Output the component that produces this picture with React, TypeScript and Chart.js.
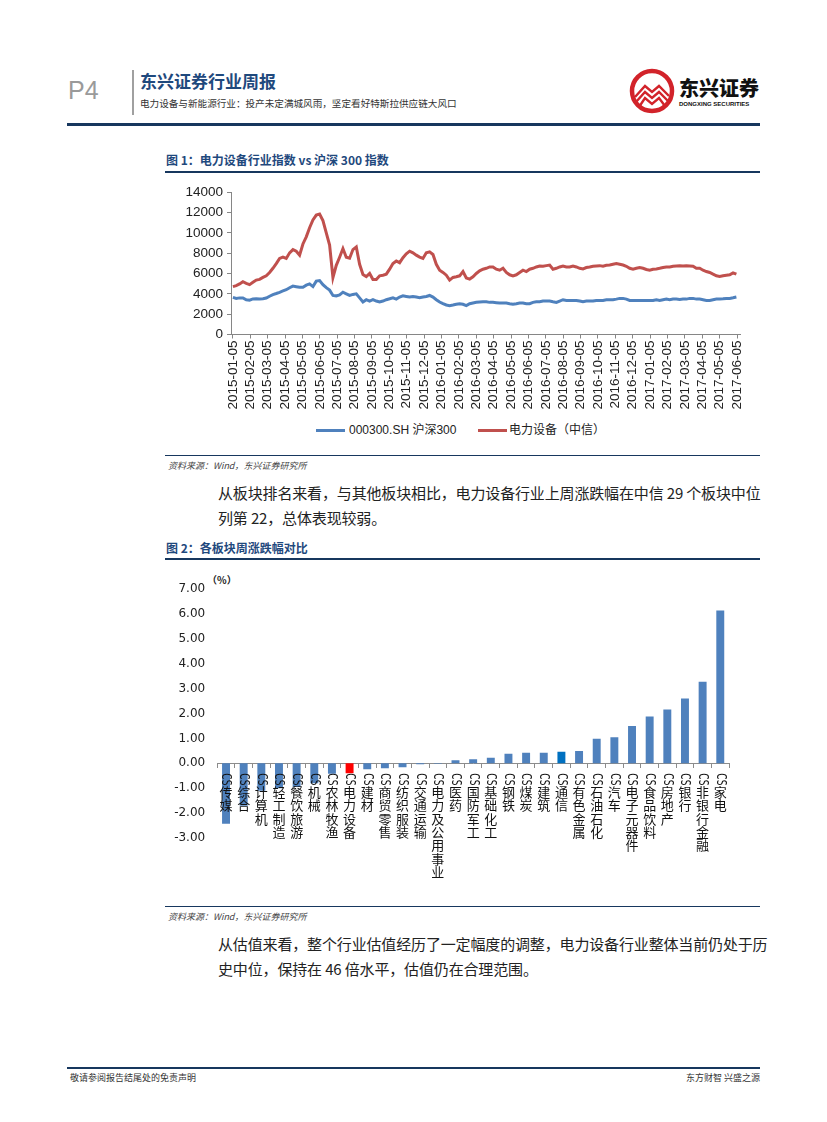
import React, { useEffect, useRef } from 'react';
import { Chart, registerables } from 'chart.js';

Chart.register(...registerables);

// ---------- Figure 1 data ----------
const MONTH_TICKS = [
  '2015-01-05', '2015-02-05', '2015-03-05', '2015-04-05', '2015-05-05', '2015-06-05',
  '2015-07-05', '2015-08-05', '2015-09-05', '2015-10-05', '2015-11-05', '2015-12-05',
  '2016-01-05', '2016-02-05', '2016-03-05', '2016-04-05', '2016-05-05', '2016-06-05',
  '2016-07-05', '2016-08-05', '2016-09-05', '2016-10-05', '2016-11-05', '2016-12-05',
  '2017-01-05', '2017-02-05', '2017-03-05', '2017-04-05', '2017-05-05', '2017-06-05',
];
// one sample every ~4 trading days (0.1918 month)
const SAMPLE_STEP_MONTHS = 0.1918;

const HS300 = [
  3650, 3550, 3600, 3600, 3420, 3380, 3500, 3520, 3500, 3520,
  3580, 3760, 3920, 4030, 4150, 4280, 4400, 4600, 4760, 4700,
  4640, 4650, 4850, 4970, 4710, 5250, 5300, 4900, 4600, 4360,
  3840, 3800, 3900, 4160, 4000, 3840, 3940, 4000, 3600, 3200,
  3420, 3290, 3420, 3290, 3190, 3290, 3420, 3510, 3610, 3480,
  3680, 3800, 3740, 3680, 3740, 3680, 3610, 3680, 3740, 3840,
  3680, 3420, 3190, 3030, 2900, 2840, 2900, 2970, 3030, 2970,
  2840, 3030, 3100, 3160, 3190, 3220, 3220,
  3160, 3160, 3130, 3100, 3100, 3100, 3030, 2970, 3030, 3100,
  3100, 3030, 3030, 3160, 3220, 3220, 3290, 3290, 3290, 3220,
  3160, 3290, 3420, 3350, 3350, 3350, 3350, 3290, 3220, 3290,
  3290, 3290, 3350, 3350, 3350, 3420, 3420, 3420, 3480, 3550,
  3550, 3480, 3350, 3350, 3350, 3350, 3350, 3350, 3350, 3350,
  3420, 3350, 3420, 3480, 3420, 3480, 3480, 3450, 3480, 3480,
  3550, 3550, 3480, 3480, 3420, 3350, 3350, 3420, 3480, 3480,
  3510, 3550, 3550, 3610, 3680,
];

const POWER_EQUIP = [
  4710, 4800, 4970, 5190, 5030, 4900, 5130, 5350, 5420, 5610,
  5770, 6100, 6510, 6970, 7480, 7610, 7480, 8030, 8350, 8190,
  7800, 8900, 9600, 10500, 11260, 11740, 11850, 11200, 10000, 8800,
  5600, 6800, 7600, 8450, 7600, 7500, 8350, 8600, 6900, 5900,
  5700, 6000, 5400, 5400, 5770, 5830, 5930, 6420, 6970, 7230,
  7060, 7550, 7930, 8190, 8030, 7800, 7610, 7480, 8030, 8130,
  7870, 6900, 6320, 6100, 5830, 5350, 5610, 5680, 5770, 6190,
  5550, 5450, 5680, 6000, 6260, 6420, 6510,
  6640, 6640, 6420, 6320, 6510, 6100, 5870, 5770, 5870, 6100,
  6320, 6190, 6420, 6510, 6640, 6740, 6710, 6770, 6830, 6420,
  6510, 6640, 6740, 6640, 6640, 6740, 6640, 6510, 6450, 6580,
  6640, 6710, 6740, 6770, 6710, 6800, 6830, 6900, 6970, 6900,
  6830, 6710, 6510, 6420, 6510, 6580, 6510, 6390, 6320, 6420,
  6450, 6510, 6580, 6640, 6640, 6710, 6740, 6770, 6740, 6770,
  6740, 6710, 6510, 6510, 6320, 6190, 6100, 5930, 5770, 5710,
  5770, 5830, 5870, 6060, 5930,
];

const SERIES_NAMES = ['000300.SH 沪深300', '电力设备（中信）'];
const Y1_TICKS = [0, 2000, 4000, 6000, 8000, 10000, 12000, 14000];

// ---------- Figure 2 data ----------
const SECTORS = [
  'CS传媒', 'CS综合', 'CS计算机', 'CS轻工制造', 'CS餐饮旅游', 'CS机械', 'CS农林牧渔',
  'CS电力设备', 'CS建材', 'CS商贸零售', 'CS纺织服装', 'CS交通运输', 'CS电力及公用事业',
  'CS医药', 'CS国防军工', 'CS基础化工', 'CS钢铁', 'CS煤炭', 'CS建筑', 'CS通信',
  'CS有色金属', 'CS石油石化', 'CS汽车', 'CS电子元器件', 'CS食品饮料', 'CS房地产',
  'CS银行', 'CS非银行金融', 'CS家电',
];
const WEEKLY_CHANGE = [
  -2.43, -1.70, -1.10, -1.00, -0.95, -0.80, -0.42,
  -0.40, -0.24, -0.20, -0.16, -0.04, -0.02,
  0.13, 0.17, 0.23, 0.39, 0.43, 0.43, 0.47,
  0.50, 0.99, 1.05, 1.50, 1.88, 2.16,
  2.61, 3.28, 6.14,
];
const Y2_TICKS = [-3, -2, -1, 0, 1, 2, 3, 4, 5, 6, 7];
const HIGHLIGHT = 'CS电力设备';
const SECONDARY = 'CS通信';

const BLUE = '#4F81BD';
const RED = '#C0504D';
const NAVY = '#1F497D';
const RULE = '#17375E';
const CJK = '"Noto Sans CJK SC", sans-serif';

function LineChart() {
  const ref = useRef<HTMLCanvasElement | null>(null);
  useEffect(() => {
    if (!ref.current) return;
    const toPts = (arr: number[]) => arr.map((v, i) => ({ x: i * SAMPLE_STEP_MONTHS, y: v }));
    const chart = new Chart(ref.current, {
      type: 'line',
      data: {
        datasets: [
          { label: SERIES_NAMES[0], data: toPts(HS300), borderColor: BLUE, borderWidth: 3, pointRadius: 0, tension: 0 },
          { label: SERIES_NAMES[1], data: toPts(POWER_EQUIP), borderColor: RED, borderWidth: 3, pointRadius: 0, tension: 0 },
        ],
      },
      options: {
        animation: false,
        responsive: false,
        maintainAspectRatio: false,
        events: [],
        layout: { padding: { top: 10, right: 20, bottom: 0, left: 0 } },
        plugins: { legend: { display: false }, tooltip: { enabled: false } },
        scales: {
          x: {
            type: 'linear',
            min: -0.11,
            max: 29.17,
            afterBuildTicks: (s: any) => { s.ticks = MONTH_TICKS.map((_, i) => ({ value: i })); },
            afterFit: (s: any) => { s.height = 85.5; },
            grid: { drawOnChartArea: false, drawTicks: true, tickLength: 4, color: '#868686' },
            border: { color: '#868686' },
            ticks: {
              autoSkip: false, minRotation: 90, maxRotation: 90, padding: 2,
              font: { family: 'Liberation Sans', size: 13.5 }, color: '#222',
              callback: (v: any) => MONTH_TICKS[Math.round(v)] ?? '',
            },
          },
          y: {
            min: 0,
            max: 14000,
            afterBuildTicks: (s: any) => { s.ticks = Y1_TICKS.map((v) => ({ value: v })); },
            afterFit: (s: any) => { s.width = 71; },
            grid: { drawOnChartArea: false, drawTicks: true, tickLength: 4, color: '#868686' },
            border: { color: '#868686' },
            ticks: {
              padding: 4, font: { family: 'Liberation Sans', size: 13.5 }, color: '#222',
              callback: (v: any) => String(v),
            },
          },
        },
      },
    } as any);
    return () => chart.destroy();
  }, []);
  return <canvas ref={ref} width={600} height={240} style={{ position: 'absolute', left: 160, top: 180, width: 600, height: 240 }} />;
}

const sectorLabelPlugin = {
  id: 'sectorLabels',
  afterDraw(chart: any) {
    const { ctx } = chart;
    const xs = chart.scales.x;
    const ys = chart.scales.y;
    const y0 = ys.getPixelForValue(0);
    ctx.save();
    ctx.fillStyle = '#111';
    SECTORS.forEach((name, i) => {
      const x = xs.getPixelForValue(i);
      const prefix = name.slice(0, 2);
      const rest = name.slice(2);
      ctx.save();
      ctx.translate(x, y0 + 10);
      ctx.rotate(Math.PI / 2);
      ctx.scale(0.65, 1);
      ctx.font = '14px "DejaVu Sans"';
      ctx.textAlign = 'left';
      ctx.textBaseline = 'middle';
      ctx.fillText(prefix, 0, 0);
      ctx.restore();
      ctx.font = '13px ' + CJK;
      ctx.textAlign = 'center';
      ctx.textBaseline = 'top';
      Array.from(rest).forEach((ch, k) => {
        ctx.fillText(ch, x, y0 + 22 + k * 13.4);
      });
    });
    ctx.restore();
  },
};

function BarChart() {
  const ref = useRef<HTMLCanvasElement | null>(null);
  useEffect(() => {
    if (!ref.current) return;
    const colors = SECTORS.map((s) => (s === HIGHLIGHT ? '#FF0000' : s === SECONDARY ? '#0070C0' : BLUE));
    const chart = new Chart(ref.current, {
      type: 'bar',
      data: {
        labels: SECTORS,
        datasets: [{ data: WEEKLY_CHANGE, backgroundColor: colors, barPercentage: 0.9, categoryPercentage: 0.5 }],
      },
      plugins: [sectorLabelPlugin],
      options: {
        animation: false,
        responsive: false,
        maintainAspectRatio: false,
        events: [],
        layout: { padding: { top: 16.5, right: 30.9, bottom: 52, left: 0 } },
        plugins: { legend: { display: false }, tooltip: { enabled: false } },
        scales: {
          x: {
            position: { y: 0 },
            grid: { drawOnChartArea: false, drawTicks: true, tickLength: 4, color: '#8c8c8c', offset: true },
            border: { color: '#8c8c8c' },
            ticks: { display: false },
          },
          y: {
            min: -3,
            max: 7,
            afterBuildTicks: (s: any) => { s.ticks = Y2_TICKS.map((v) => ({ value: v })); },
            afterFit: (s: any) => { s.width = 57.2; },
            grid: { display: false, drawTicks: false },
            border: { display: false },
            ticks: {
              padding: 12, font: { family: 'DejaVu Sans', size: 12 }, color: '#222',
              callback: (v: any) => Number(v).toFixed(2),
            },
          },
        },
      },
    } as any);
    return () => chart.destroy();
  }, []);
  return <canvas ref={ref} width={600} height={320} style={{ position: 'absolute', left: 160, top: 570, width: 600, height: 320 }} />;
}

const abs = (left: number, top: number, extra: React.CSSProperties = {}): React.CSSProperties => ({
  position: 'absolute', left, top, whiteSpace: 'nowrap', margin: 0, ...extra,
});

function Rule({ left, top, width, height, color }: { left: number; top: number; width: number; height: number; color: string }) {
  return <div style={{ position: 'absolute', left, top, width, height, background: color }} />;
}

export default function App() {
  const body: React.CSSProperties = { fontFamily: CJK, fontSize: 15, lineHeight: '25px', color: '#222', letterSpacing: '-0.15px' };
  const source: React.CSSProperties = { fontFamily: CJK, fontSize: 9, fontStyle: 'italic', color: '#444', lineHeight: '12px' };
  const figTitle: React.CSSProperties = { fontFamily: CJK, fontSize: 12, fontWeight: 700, color: NAVY, lineHeight: '16px' };
  return (
    <div style={{ position: 'absolute', left: 0, top: 0, width: 827, height: 1122, background: '#fff', overflow: 'hidden' }}>
      {/* header */}
      <div style={abs(68, 76, { fontFamily: 'Liberation Sans', fontSize: 25, color: '#9a9a9a', lineHeight: '28px' })}>P4</div>
      <Rule left={132} top={70} width={2} height={45} color="#a0a0a0" />
      <div style={abs(140, 70, { fontFamily: CJK, fontSize: 17, fontWeight: 700, color: NAVY, lineHeight: '22px' })}>东兴证券行业周报</div>
      <div style={abs(140, 97, { fontFamily: CJK, fontSize: 9.6, color: '#333', lineHeight: '12px' })}>
        电力设备与新能源行业：投产未定满城风雨，坚定看好特斯拉供应链大风口
      </div>
      <svg style={{ position: 'absolute', left: 628, top: 67 }} width={48} height={48} viewBox="0 0 48 48">
        <circle cx={24} cy={24} r={20} fill="#fff" stroke="#D2232A" strokeWidth={4.5} />
        <polyline points="7,30 17,19 24,25 31,19 41,29" fill="none" stroke="#D2232A" strokeWidth={2.4} />
        <polyline points="8,35 17,25 24,31 31,25 40,34" fill="none" stroke="#D2232A" strokeWidth={2.4} />
        <polyline points="11,40 17,31 24,37 31,31 37,39" fill="none" stroke="#D2232A" strokeWidth={2.4} />
      </svg>
      <div style={abs(679, 76, { fontFamily: CJK, fontSize: 20, fontWeight: 900, color: '#111', lineHeight: '24px' })}>东兴证券</div>
      <div style={abs(679, 100, { fontFamily: 'Liberation Sans', fontSize: 6, fontWeight: 700, color: '#111', lineHeight: '8px' })}>DONGXING SECURITIES</div>
      <Rule left={67} top={123} width={693} height={3} color={RULE} />

      {/* figure 1 */}
      <div style={abs(166, 152, figTitle)}>图 1：电力设备行业指数 vs 沪深 300 指数</div>
      <Rule left={165} top={171} width={595} height={1.5} color={RULE} />
      <LineChart />
      <div style={{ position: 'absolute', left: 316, top: 429, width: 29, height: 3, background: BLUE }} />
      <div style={abs(349, 422, { fontFamily: '"Liberation Sans", ' + CJK, fontSize: 12, color: '#222', lineHeight: '16px' })}>{SERIES_NAMES[0]}</div>
      <div style={{ position: 'absolute', left: 478, top: 429, width: 29, height: 3, background: RED }} />
      <div style={abs(509, 422, { fontFamily: '"Liberation Sans", ' + CJK, fontSize: 12, color: '#222', lineHeight: '16px' })}>{SERIES_NAMES[1]}</div>
      <Rule left={165} top={455} width={595} height={1} color={RULE} />
      <div style={abs(168, 460, source)}>资料来源：Wind，东兴证券研究所</div>

      {/* paragraph 1 */}
      <div style={abs(218, 480, body)}>从板块排名来看，与其他板块相比，电力设备行业上周涨跌幅在中信 29 个板块中位</div>
      <div style={abs(218, 505, body)}>列第 22，总体表现较弱。</div>

      {/* figure 2 */}
      <div style={abs(166, 540, figTitle)}>图 2：各板块周涨跌幅对比</div>
      <Rule left={165} top={558} width={595} height={1.5} color={RULE} />
      <div style={abs(207, 574, { fontFamily: CJK, fontSize: 10, fontWeight: 700, color: '#222', lineHeight: '12px' })}>（%）</div>
      <BarChart />
      <Rule left={165} top={906} width={595} height={1} color={RULE} />
      <div style={abs(168, 911, source)}>资料来源：Wind，东兴证券研究所</div>

      {/* paragraph 2 */}
      <div style={abs(218, 931, body)}>从估值来看，整个行业估值经历了一定幅度的调整，电力设备行业整体当前仍处于历</div>
      <div style={abs(218, 956, body)}>史中位，保持在 46 倍水平，估值仍在合理范围。</div>

      {/* footer */}
      <Rule left={67} top={1067} width={693} height={2} color={RULE} />
      <div style={abs(70, 1072, { fontFamily: CJK, fontSize: 9, color: '#333', lineHeight: '12px' })}>敬请参阅报告结尾处的免责声明</div>
      <div style={abs(0, 1072, { fontFamily: CJK, fontSize: 9, color: '#333', lineHeight: '12px', left: 'auto', right: 67 })}>东方财智 兴盛之源</div>
    </div>
  );
}
